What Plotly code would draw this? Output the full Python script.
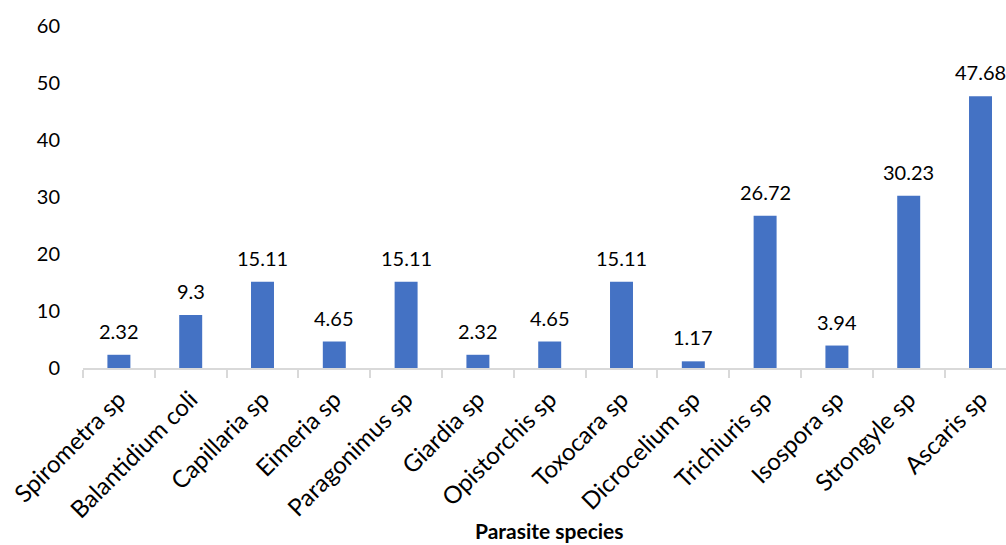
import plotly.graph_objects as go

species = ["Spirometra sp", "Balantidium coli", "Capillaria sp", "Eimeria sp",
           "Paragonimus sp", "Giardia sp", "Opistorchis sp", "Toxocara sp",
           "Dicrocelium sp", "Trichiuris sp", "Isospora sp", "Strongyle sp",
           "Ascaris sp"]
prevalence = [2.32, 9.3, 15.11, 4.65, 15.11, 2.32, 4.65, 15.11, 1.17,
              26.72, 3.94, 30.23, 47.68]
y_ticks = [0, 10, 20, 30, 40, 50, 60]

FONT = "Lato"
BAR_COLOR = "#4472C4"
AXIS_COLOR = "#D9D9D9"

fig = go.Figure()
fig.add_trace(go.Bar(x=species, y=prevalence, marker_color=BAR_COLOR,
                     marker_line_width=0, hoverinfo="x+y"))

# value labels sitting above each bar
for name, val in zip(species, prevalence):
    fig.add_annotation(x=name, y=val, text=f"{val:g}", showarrow=False,
                       yanchor="bottom", yshift=10,
                       font=dict(family=FONT, size=20, color="#000000"))

fig.add_annotation(x=0.505, y=-0.475, xref="paper", yref="paper",
                   xanchor="center", yanchor="middle",
                   text="<b>Parasite species</b>", showarrow=False,
                   font=dict(family=FONT, size=21, color="#000000"))

fig.update_layout(
    width=1006, height=545,
    margin=dict(l=83, r=0, t=26, b=177),
    paper_bgcolor="white", plot_bgcolor="white",
    bargap=0.68, showlegend=False,
    font=dict(family=FONT, size=20, color="#000000"),
)
fig.update_xaxes(
    range=[-0.5, 12.355], tickangle=-45,
    showline=True, linecolor=AXIS_COLOR, linewidth=2,
    ticks="outside", tickson="boundaries", ticklen=8, tickcolor=AXIS_COLOR,
    tickwidth=2, showgrid=False, ticklabelstandoff=6,
    tickfont=dict(family=FONT, size=24, color="#000000"),
)
fig.update_yaxes(
    range=[0, 60], tickvals=y_ticks, showgrid=False, zeroline=False,
    showline=False, ticks="", ticklabelstandoff=22,
    tickfont=dict(family=FONT, size=20, color="#000000"),
)

fig.write_html("out.html")
